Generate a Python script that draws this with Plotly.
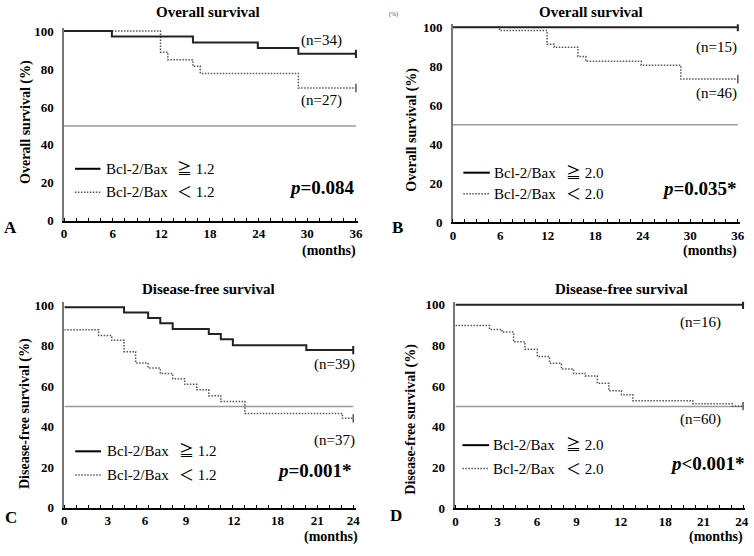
import plotly.graph_objects as go

W, H = 754, 556
SERIF = "'Liberation Serif', 'Times New Roman', 'DejaVu Serif', 'Noto Sans CJK JP', serif"

# ---------------- data ----------------
# Panel A: overall survival, cut-off 1.2
A_hi_t = [0, 5.9, 15.9, 23.9, 28.9, 36]
A_hi_s = [100, 97.1, 94.0, 91.1, 88.0, 88.0]
A_lo_t = [0, 11.9, 12.8, 15.9, 16.8, 28.9, 36]
A_lo_s = [100, 88.9, 84.9, 81.5, 77.7, 70.0, 70.0]
# Panel B: overall survival, cut-off 2.0
B_hi_t = [0, 36]
B_hi_s = [100, 100]
B_lo_t = [0, 5.9, 11.9, 12.8, 15.8, 16.8, 23.8, 28.8, 36]
B_lo_s = [100, 98.3, 91.3, 89.7, 85.0, 82.5, 80.5, 73.5, 73.5]
# Panel C: disease-free survival, cut-off 1.2
C_hi_t = [0, 4.96, 6.96, 7.97, 9.0, 12.0, 13.0, 14.0, 20.1, 24]
C_hi_s = [99.0, 96.3, 93.6, 91.0, 88.2, 85.8, 83.1, 80.2, 77.8, 77.8]
C_lo_t = [0, 2.85, 3.94, 4.96, 5.92, 6.96, 7.97, 9.0, 10.0, 11.0, 12.0, 13.0, 15.0, 23.1, 24]
C_lo_s = [87.8, 85.0, 82.6, 77.0, 71.4, 69.0, 66.2, 63.7, 60.9, 58.2, 55.3, 52.4, 46.5, 44.1, 44.1]
# Panel D: disease-free survival, cut-off 2.0
D_hi_t = [0, 24]
D_hi_s = [100, 100]
D_lo_t = [0, 2.84, 3.88, 4.85, 5.8, 6.83, 7.85, 8.84, 9.86, 10.82, 11.84, 12.8, 13.85, 14.8, 19.8, 23.1, 24]
D_lo_s = [89.8, 87.9, 86.6, 81.8, 78.1, 74.6, 71.3, 68.5, 66.3, 65.0, 61.4, 57.8, 55.8, 52.9, 51.4, 50.2, 50.2]

MEDIAN = 50

# tick labels
Y_TICKS = [0, 20, 40, 60, 80, 100]
OS_X_TICKS = [0, 6, 12, 18, 24, 30, 36]
C_X_TICKPOS = [0, 3.6, 6.7, 10.1, 14.1, 17.7, 21.0, 24]
D_X_TICKPOS = [0, 3.5, 6.8, 10.1, 13.8, 17.5, 20.7, 23.9]
DFS_X_TICKTEXT = ["0", "3", "6", "9", "12", "18", "21", "24"]

N_LABELS = {"A": ("(n=34)", "(n=27)"), "B": ("(n=15)", "(n=46)"),
            "C": ("(n=39)", "(n=37)"), "D": ("(n=16)", "(n=60)")}
CUTOFF = {"A": "1.2", "B": "2.0", "C": "1.2", "D": "2.0"}
PVAL = {"A": "<i>p</i>=0.084", "B": "<i>p</i>=0.035*",
        "C": "<i>p</i>=0.001*", "D": "<i>p</i>&lt;0.001*"}
TITLE = {"A": "Overall survival", "B": "Overall survival",
         "C": "Disease-free survival", "D": "Disease-free survival"}
YTITLE = {"A": "Overall survival (%)", "B": "Overall survival (%)",
          "C": "Disease-free survival (%)", "D": "Disease-free survival (%)"}

# ---------------- layout geometry (pixels) ----------------
P = {
    "A": dict(i=1, x0=61.7, x1=356.7, span=36, y0=221.0, y100=26.7, xmax=36.3,
              hi=(A_hi_t, A_hi_s), lo=(A_lo_t, A_lo_s), tv=OS_X_TICKS, tt=[str(v) for v in OS_X_TICKS],
              minor=1.5, n1=(321.7, 36), n2=(321.7, 97.3), leg=(72.7, 98.5, 101.7, 174, 167.7, 191.7),
              p=(358.3, 186.7), title=(207, 7), ytl=(23, 120), letter=(8, 228), months=(359, 251.5)),
    "B": dict(i=2, x0=454.7, x1=742.7, span=36, y0=222.7, y100=22.7, xmax=36.3,
              hi=(B_hi_t, B_hi_s), lo=(B_lo_t, B_lo_s), tv=OS_X_TICKS, tt=[str(v) for v in OS_X_TICKS],
              minor=1.5, n1=(721, 43.3), n2=(721, 90.7), leg=(465.3, 492, 494.3, 567, 171.7, 193.3),
              p=(743.7, 188.3), title=(594, 7), ytl=(413, 128), letter=(398.7, 228), months=(743.7, 252)),
    "C": dict(i=3, x0=62.0, x1=354.0, span=24, y0=514.7, y100=307.3, xmax=24.2,
              hi=(C_hi_t, C_hi_s), lo=(C_lo_t, C_lo_s), tv=C_X_TICKPOS, tt=DFS_X_TICKTEXT,
              minor=1, n1=(335, 368), n2=(335, 446.3), leg=(73, 99, 103.3, 176, 457, 481.3),
              p=(355, 476.3), title=(208, 291), ytl=(22, 418), letter=(8.3, 525), months=(360.7, 545)),
    "D": dict(i=4, x0=457.3, x1=748.0, span=24, y0=515.3, y100=307.0, xmax=24.2,
              hi=(D_hi_t, D_hi_s), lo=(D_lo_t, D_lo_s), tv=D_X_TICKPOS, tt=DFS_X_TICKTEXT,
              minor=1, n1=(705.3, 324.7), n2=(705.3, 424.7), leg=(464.3, 491.3, 493.7, 567, 450.7, 474.7),
              p=(752, 469.7), title=(625, 291), ytl=(412, 424), letter=(397, 523), months=(750, 545)),
}
YMAX = 101.5
DOT = "1.5px,1.5px"


def px(x):
    return x / W


def py(y):
    return 1 - y / H


fig = go.Figure()
layout = dict(width=W, height=H, margin=dict(l=0, r=0, t=0, b=0),
              paper_bgcolor="white", plot_bgcolor="white", showlegend=False)
annotations = []
shapes = []


def ann(text, x, y, size, bold=False, xanchor="center", angle=0, color="black"):
    annotations.append(dict(text=text, x=px(x), y=py(y), xref="paper", yref="paper",
                            xanchor=xanchor, yanchor="middle", showarrow=False, textangle=angle,
                            font=dict(family=SERIF, size=size, color=color,
                                      weight="bold" if bold else "normal")))


for key, c in P.items():
    i = c["i"]
    xs = "" if i == 1 else str(i)
    xscale = (c["x1"] - c["x0"]) / c["span"]
    xdom = [px(c["x0"]), px(c["x0"] + c["xmax"] * xscale)]
    yscale = (c["y0"] - c["y100"]) / 100
    ydom = [py(c["y0"]), py(c["y0"] - YMAX * yscale)]
    layout["xaxis" + xs] = dict(
        domain=xdom, range=[0, c["xmax"]], anchor="y" + xs,
        showline=True, linecolor="black", linewidth=2, showgrid=False, zeroline=False,
        ticks="", tickmode="array", tickvals=c["tv"], ticktext=c["tt"],
        tickfont=dict(family=SERIF, size=13, color="black", weight="bold"),
        ticklabelstandoff=0,
        minor=dict(ticks="inside", ticklen=3, tickwidth=1, tickcolor="black",
                   tickmode="linear", tick0=0, dtick=c["minor"], showgrid=False),
    )
    layout["yaxis" + xs] = dict(
        domain=ydom, range=[0, YMAX], anchor="x" + xs,
        showline=True, linecolor="#777", linewidth=1.5, showgrid=False, zeroline=False,
        ticks="", tickmode="array", tickvals=Y_TICKS,
        tickfont=dict(family=SERIF, size=13, color="black", weight="bold"),
        ticklabelstandoff=6,
    )
    # median reference line
    fig.add_trace(go.Scatter(x=[0, c["span"]], y=[MEDIAN, MEDIAN], mode="lines",
                             line=dict(color="#9a9a9a", width=1.5),
                             xaxis="x" + xs, yaxis="y" + xs, hoverinfo="skip"))
    # survival curves
    t, s = c["lo"]
    fig.add_trace(go.Scatter(x=t, y=s, mode="lines", line_shape="hv",
                             line=dict(color="#555", width=1.5, dash=DOT),
                             xaxis="x" + xs, yaxis="y" + xs))
    fig.add_trace(go.Scatter(x=[t[-1]], y=[s[-1]], mode="markers",
                             marker=dict(symbol="line-ns", size=6, line=dict(color="#555", width=1.5)),
                             xaxis="x" + xs, yaxis="y" + xs))
    t, s = c["hi"]
    fig.add_trace(go.Scatter(x=t, y=s, mode="lines", line_shape="hv",
                             line=dict(color="#222", width=2),
                             xaxis="x" + xs, yaxis="y" + xs))
    fig.add_trace(go.Scatter(x=[t[-1]], y=[s[-1]], mode="markers",
                             marker=dict(symbol="line-ns", size=6, line=dict(color="#222", width=2)),
                             xaxis="x" + xs, yaxis="y" + xs))

    ann(TITLE[key], *c["title"], 15, bold=True)
    ann(YTITLE[key], *c["ytl"], 14, bold=True, angle=-90)
    ann(key, *c["letter"], 17, bold=True)
    ann("(months)", *c["months"], 14, bold=True, xanchor="right")
    ann(N_LABELS[key][0], *c["n1"], 15)
    ann(N_LABELS[key][1], *c["n2"], 15)
    ann(PVAL[key], *c["p"], 19, bold=True, xanchor="right")
    lx0, lx1, tx, sx, r1, r2 = c["leg"]
    shapes.append(dict(type="line", xref="paper", yref="paper", x0=px(lx0), x1=px(lx1),
                       y0=py(r1), y1=py(r1), line=dict(color="black", width=2)))
    shapes.append(dict(type="line", xref="paper", yref="paper", x0=px(lx0), x1=px(lx1),
                       y0=py(r2), y1=py(r2), line=dict(color="#555", width=1.5, dash=DOT)))
    ann("Bcl-2/Bax", tx, r1, 15, xanchor="left")
    ann("Bcl-2/Bax", tx, r2, 15, xanchor="left")
    ann("≧ " + CUTOFF[key], sx, r1, 15, xanchor="left")
    ann("＜ " + CUTOFF[key], sx, r2, 15, xanchor="left")

ann("(%)", 395, 10, 6, color="#444")

layout["annotations"] = annotations
layout["shapes"] = shapes
fig.update_layout(**layout)
fig.write_html("out.html", config={"displayModeBar": False},
               post_script="document.body.style.margin='0';document.body.style.overflow='hidden';")
